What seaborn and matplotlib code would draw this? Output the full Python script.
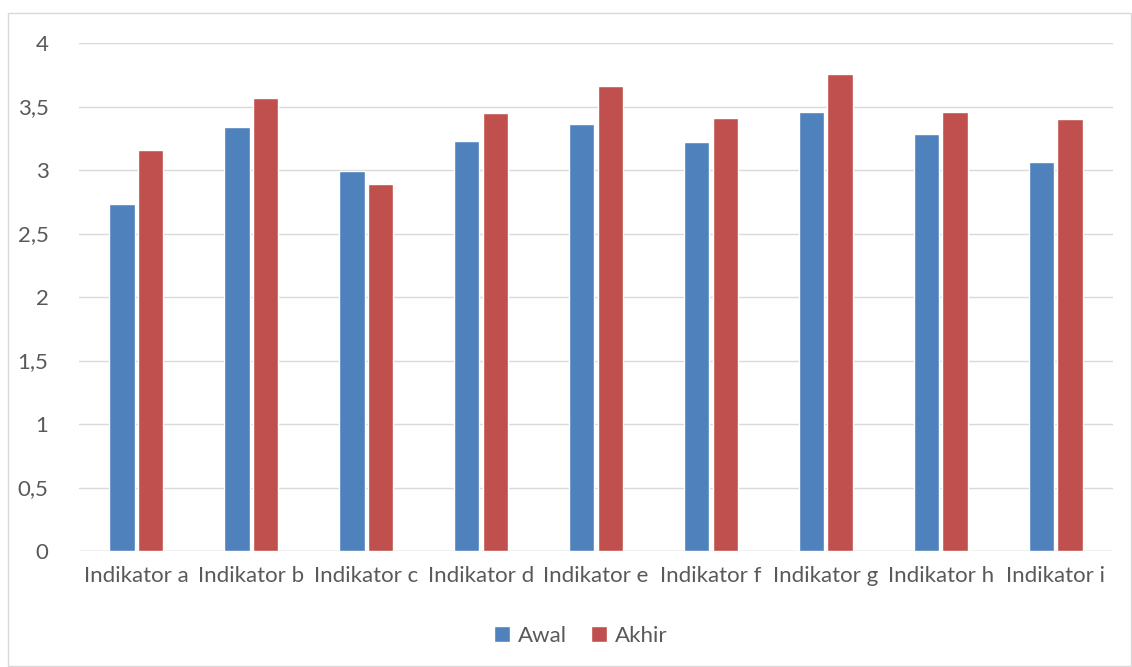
import matplotlib
matplotlib.use("Agg")
import matplotlib.pyplot as plt
from matplotlib.patches import Rectangle
import seaborn as sns
import pandas as pd

categories = ["Indikator a", "Indikator b", "Indikator c", "Indikator d", "Indikator e",
              "Indikator f", "Indikator g", "Indikator h", "Indikator i"]
awal = [2.73, 3.34, 2.99, 3.23, 3.36, 3.22, 3.46, 3.28, 3.06]
akhir = [3.16, 3.57, 2.89, 3.45, 3.66, 3.41, 3.76, 3.46, 3.40]
series_names = ["Awal", "Akhir"]
yticks = [0, 0.5, 1, 1.5, 2, 2.5, 3, 3.5, 4]

df = pd.DataFrame({
    "Indikator": categories * 2,
    "Nilai": awal + akhir,
    "Seri": [series_names[0]] * len(categories) + [series_names[1]] * len(categories),
})

sns.set_style("white")
plt.rcParams["font.family"] = ["Lato", "DejaVu Sans"]
text_color = "#595959"
grid_color = "#D9D9D9"
fsize = 16

fig = plt.figure(figsize=(11.32, 6.67), dpi=100)
ax = fig.add_axes([0.0698, 0.1739, 0.9134, 0.7616])

sns.barplot(data=df, x="Indikator", y="Nilai", hue="Seri", ax=ax,
            palette=["#4F81BD", "#C0504D"], width=0.5, gap=0.12,
            saturation=1, errorbar=None, legend=True)

ax.set_ylim(0, 4)
ax.set_xlim(-0.5, len(categories) - 0.5)
ax.set_yticks(yticks)
ax.set_yticklabels([f"{v:g}".replace(".", ",") for v in yticks])
ax.yaxis.grid(True, color=grid_color, linewidth=1)
ax.set_axisbelow(True)
for s in ax.spines.values():
    s.set_visible(False)
ax.axhline(0, color=grid_color, linewidth=1, zorder=0.5)
ax.tick_params(axis="both", length=0, colors=text_color, labelsize=fsize)
ax.tick_params(axis="y", pad=22)
ax.tick_params(axis="x", pad=11)
ax.set_xlabel("")
ax.set_ylabel("")

handles, labels = ax.get_legend_handles_labels()
ax.legend_.remove()
fig.legend(handles, labels, loc="center", bbox_to_anchor=(0.513, 0.047), ncol=2,
           frameon=False, fontsize=fsize, labelcolor=text_color,
           handlelength=0.7, handleheight=0.7, handletextpad=0.35, columnspacing=1.1)

fig.patches.append(Rectangle((8 / 1132, 0.001), 1 - 8 / 1132 - 0.001, 1 - 13 / 667 - 0.001,
                             transform=fig.transFigure, fill=False,
                             edgecolor=grid_color, linewidth=1))

fig.savefig("out.png", dpi=100)
